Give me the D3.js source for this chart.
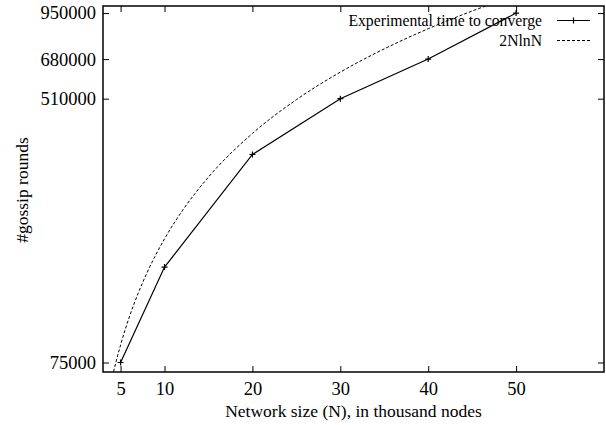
<!DOCTYPE html>
<html>
<head>
<meta charset="utf-8">
<script src="https://cdn.jsdelivr.net/npm/d3@7"></script>
<style>
  body { margin: 0; background: #fff; }
  svg text { font-family: "Liberation Serif", "Times New Roman", serif; fill: #000; }
</style>
</head>
<body>
<div id="chart"></div>
<script>
// gossip rounds vs network size, log y axis, gnuplot look
var sizes = [5, 10, 20, 30, 40, 50];                       // thousand nodes
var rounds = [75000, 150000, 340000, 510000, 680000, 950000];

// 2NlnN reference curve
var refSizes = [4.2, 4.5, 5, 6, 7, 8, 10, 12, 15, 20, 25, 30, 35, 40, 45, 47.5];
var refRounds = [70100, 75700, 85200, 104400, 124000, 143800, 184200, 225400, 288500,
                 396100, 506300, 618500, 732400, 847700, 964300, 1022600];

var xTicks = [5, 10, 20, 30, 40, 50];
var yTicks = [75000, 510000, 680000, 950000];

var seriesNames = ["Experimental time to converge", "2NlnN"];

var width = 606,
    height = 425;
var margin = {top: 6, right: 2, bottom: 53, left: 103};

var svg = d3.select("#chart").append("svg")
    .attr("width", width)
    .attr("height", height)
    .attr("font-family", "Liberation Serif, serif");

var x = d3.scaleLinear()
    .domain([3, 60])
    .range([margin.left, width - margin.right]);

var y = d3.scaleLog()
    .domain([70000, 1000000])
    .range([height - margin.bottom, margin.top]);

svg.append("clipPath").attr("id", "clip")
  .append("rect")
    .attr("x", margin.left)
    .attr("y", margin.top)
    .attr("width", width - margin.left - margin.right)
    .attr("height", height - margin.top - margin.bottom);

var tickLen = 6;

// axes - ticks pointing inward, mirrored on top/right
svg.append("g")
    .attr("transform", "translate(0," + (height - margin.bottom) + ")")
    .call(d3.axisBottom(x).tickValues(xTicks).tickSizeInner(-tickLen).tickSizeOuter(0).tickPadding(10))
    .call(g => g.select(".domain").remove())
    .call(g => g.selectAll("text").attr("font-size", 18.5).attr("dy", "0.71em"));

svg.append("g")
    .attr("transform", "translate(0," + margin.top + ")")
    .call(d3.axisTop(x).tickValues(xTicks).tickSizeInner(-tickLen).tickSizeOuter(0).tickFormat(""))
    .call(g => g.select(".domain").remove());

svg.append("g")
    .attr("transform", "translate(" + margin.left + ",0)")
    .call(d3.axisLeft(y).tickValues(yTicks).tickSizeInner(-tickLen).tickSizeOuter(0).tickPadding(7)
      .tickFormat(d3.format("d")))
    .call(g => g.select(".domain").remove())
    .call(g => g.selectAll("text").attr("font-size", 18.5));

svg.append("g")
    .attr("transform", "translate(" + (width - margin.right) + ",0)")
    .call(d3.axisRight(y).tickValues(yTicks).tickSizeInner(-tickLen).tickSizeOuter(0).tickFormat(""))
    .call(g => g.select(".domain").remove());

svg.selectAll(".tick line").attr("stroke", "#000").attr("stroke-width", 1);

// border
svg.append("rect")
    .attr("x", margin.left)
    .attr("y", margin.top)
    .attr("width", width - margin.left - margin.right)
    .attr("height", height - margin.top - margin.bottom)
    .attr("fill", "none")
    .attr("stroke", "#000")
    .attr("stroke-width", 1.5);

var plot = svg.append("g").attr("clip-path", "url(#clip)");

// 2NlnN dashed curve
var refLine = d3.line()
    .x((d, i) => x(refSizes[i]))
    .y(d => y(d))
    .curve(d3.curveMonotoneX);

plot.append("path")
    .attr("d", refLine(refRounds))
    .attr("fill", "none")
    .attr("stroke", "#000")
    .attr("stroke-width", 1)
    .attr("stroke-dasharray", "3,2");

// experimental line
var expLine = d3.line()
    .x((d, i) => x(sizes[i]))
    .y(d => y(d));

plot.append("path")
    .attr("d", expLine(rounds))
    .attr("fill", "none")
    .attr("stroke", "#000")
    .attr("stroke-width", 1.2);

// + markers (small, gnuplot style)
function plus(g, cx, cy) {
  g.append("path")
    .attr("d", "M" + (cx - 3) + "," + cy + "H" + (cx + 3) + "M" + cx + "," + (cy - 3) + "V" + (cy + 3))
    .attr("stroke", "#000")
    .attr("stroke-width", 1.2);
}
sizes.forEach((s, i) => plus(plot, x(s), y(rounds[i])));

// legend
var legX = 557, legW = 33;
var leg = svg.append("g");
seriesNames.forEach(function(name, i) {
  var ly = 20.5 + i * 20;
  leg.append("text")
      .attr("x", legX - 15)
      .attr("y", ly + 5.5)
      .attr("text-anchor", "end")
      .attr("font-size", 15.7)
      .text(name);
  leg.append("line")
      .attr("x1", legX).attr("x2", legX + legW)
      .attr("y1", ly).attr("y2", ly)
      .attr("stroke", "#000")
      .attr("stroke-width", i == 0 ? 1.2 : 1)
      .attr("stroke-dasharray", i == 0 ? null : "3,2");
  if (i == 0) plus(leg, legX + legW / 2, ly);
});

// axis titles
svg.append("text")
    .attr("x", (margin.left + width - margin.right) / 2)
    .attr("y", 417)
    .attr("text-anchor", "middle")
    .attr("font-size", 17.5)
    .text("Network size (N), in thousand nodes");

svg.append("text")
    .attr("transform", "translate(28,190) rotate(-90)")
    .attr("text-anchor", "middle")
    .attr("font-size", 17.5)
    .text("#gossip rounds");
</script>
</body>
</html>
